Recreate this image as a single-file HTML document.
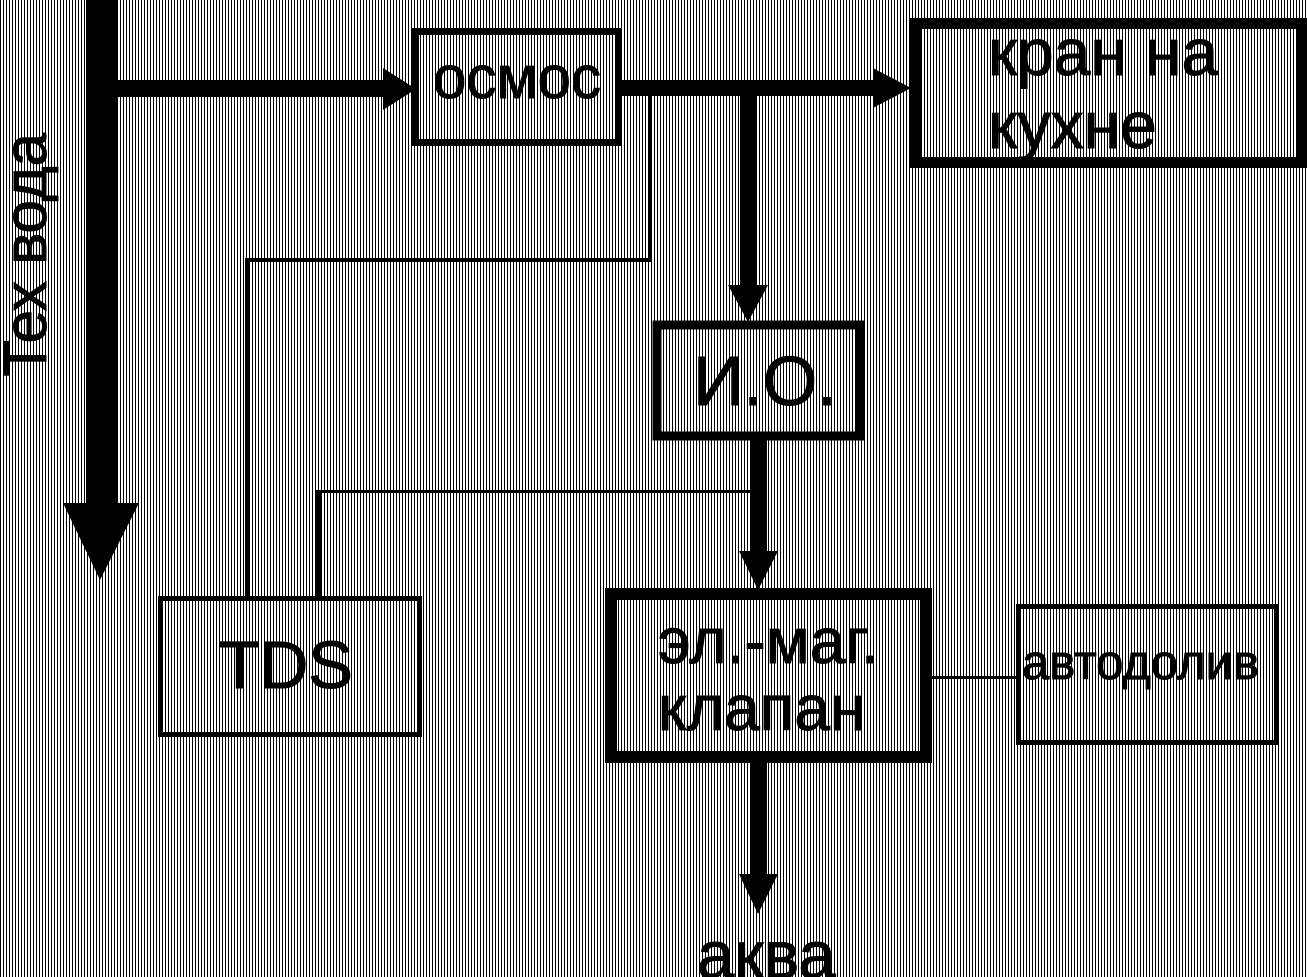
<!DOCTYPE html>
<html><head><meta charset="utf-8"><style>
html,body{margin:0;padding:0;}
body{width:1307px;height:977px;overflow:hidden;background:repeating-linear-gradient(90deg,#000 0,#000 1px,#fff 1px,#fff 3px);}
svg{position:absolute;left:0;top:0;}
text{font-family:"Liberation Sans",Arial,sans-serif;fill:#000;stroke:#000;stroke-width:1;}
</style></head><body>
<svg width="1307" height="977" viewBox="0 0 1307 977">
<g fill="#000">
<rect x="86" y="0" width="31" height="505"/>
<polygon points="63,503 139,503 100,580"/>
<rect x="117" y="80" width="268" height="17"/>
<polygon points="383,68 383,110 416,89"/>
<rect x="620" y="80" width="255" height="16"/>
<polygon points="873,68 873,108 911,88"/>
<rect x="740" y="95" width="17" height="195"/>
<polygon points="728,285 768,285 748,322"/>
<rect x="751" y="438" width="16" height="115"/>
<polygon points="739,551 778,551 758,590"/>
<rect x="751" y="760" width="16" height="116"/>
<polygon points="739,874 778,874 758,914"/>
<rect x="648" y="95" width="4" height="167"/>
<rect x="245" y="258" width="407" height="4"/>
<rect x="245" y="258" width="5" height="340"/>
<rect x="316" y="490" width="435" height="3"/>
<rect x="316" y="490" width="5" height="108"/>
<rect x="932" y="676" width="86" height="3"/>
</g>
<g fill="none" stroke="#000">
<rect x="415.5" y="31.5" width="203" height="111" stroke-width="7"/>
<rect x="915.5" y="23.5" width="386" height="139" stroke-width="11"/>
<rect x="657" y="325" width="203" height="111" stroke-width="9"/>
<rect x="160.5" y="598.5" width="259" height="136" stroke-width="5"/>
<rect x="611" y="594" width="315" height="163" stroke-width="12"/>
<rect x="1018.5" y="606.5" width="258" height="136" stroke-width="5"/>
</g>
<text x="433" y="98" font-size="60">осмос</text>
<text x="988" y="75" font-size="66">кран на</text>
<text x="988" y="148" font-size="66">кухне</text>
<text x="693" y="405" font-size="70">И.О.</text>
<text x="219" y="688" font-size="67">TDS</text>
<text x="658" y="663" font-size="64">эл.-маг.</text>
<text x="658" y="730" font-size="64">клапан</text>
<text x="1022" y="679" font-size="49">автодолив</text>
<text x="697" y="978" font-size="67">аква</text>
<text transform="translate(46,133) rotate(-90)" text-anchor="end" font-size="60">Тех вода</text>
</svg>
</body></html>
